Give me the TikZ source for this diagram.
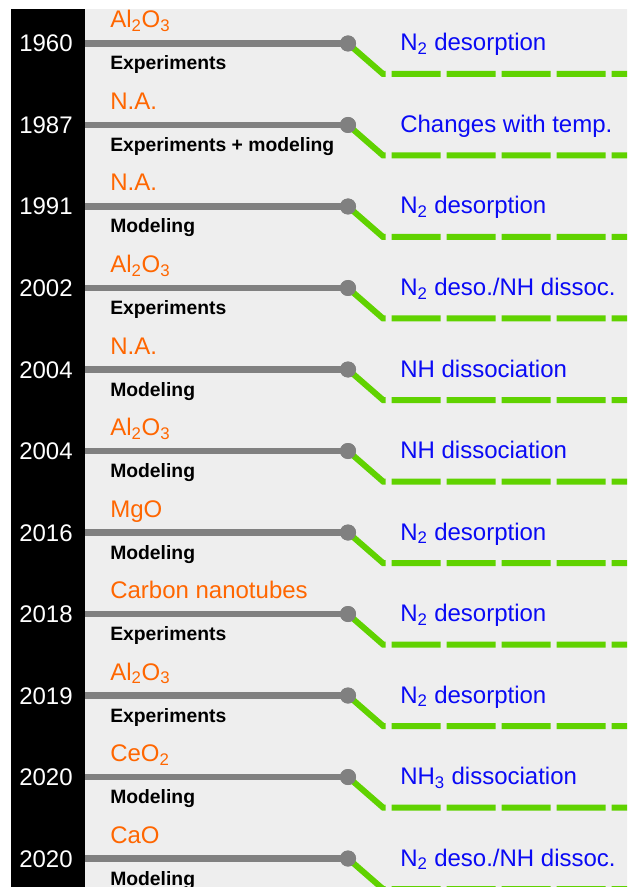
\documentclass[tikz,border=0pt]{standalone}
\usepackage{fontspec}
\setmainfont{Liberation Sans}
\definecolor{bgg}{RGB}{238,238,238}
\definecolor{lgray}{RGB}{128,128,128}
\definecolor{matorange}{RGB}{255,102,0}
\definecolor{resblue}{RGB}{10,10,245}
\definecolor{lgreen}{RGB}{96,210,0}
\tikzset{
  grayline/.style={draw=lgray,line width=5pt},
  greenline/.style={draw=lgreen,line width=4.5pt,dash pattern=on 36.75pt off 4.5pt},
  dot/.style={circle,fill=lgray,minimum size=12pt,inner sep=0pt},
  yeartxt/.style={anchor=base,inner sep=0pt,text=white,font=\fontsize{18pt}{20pt}\selectfont},
  mattxt/.style={anchor=base west,inner sep=0pt,text=matorange,font=\fontsize{18pt}{20pt}\selectfont},
  methtxt/.style={anchor=base west,inner sep=0pt,text=black,font=\fontsize{14.5pt}{16pt}\selectfont\bfseries},
  restxt/.style={anchor=base west,inner sep=0pt,text=resblue,font=\fontsize{18pt}{20pt}\selectfont}
}
\newcommand{\sbs}[1]{\textsubscript{#1}}
\begin{document}
\begin{tikzpicture}[x=0.75pt,y=-0.75pt]
\useasboundingbox (0,0) rectangle (627,887);
\clip (0,0) rectangle (627,887);
\fill[white] (0,0) rectangle (627,887);
\fill[black] (11,9) rectangle (85,890);
\fill[bgg] (85,9) rectangle (630,890);
\foreach \i/\yr/\mat/\meth/\res in {
  0/1960/{Al\sbs{2}O\sbs{3}}/{Experiments}/{N\sbs{2} desorption},
  1/1987/{N.A.}/{Experiments + modeling}/{Changes with temp.},
  2/1991/{N.A.}/{Modeling}/{N\sbs{2} desorption},
  3/2002/{Al\sbs{2}O\sbs{3}}/{Experiments}/{N\sbs{2} deso./NH dissoc.},
  4/2004/{N.A.}/{Modeling}/{NH dissociation},
  5/2004/{Al\sbs{2}O\sbs{3}}/{Modeling}/{NH dissociation},
  6/2016/{MgO}/{Modeling}/{N\sbs{2} desorption},
  7/2018/{Carbon nanotubes}/{Experiments}/{N\sbs{2} desorption},
  8/2019/{Al\sbs{2}O\sbs{3}}/{Experiments}/{N\sbs{2} desorption},
  9/2020/{CeO\sbs{2}}/{Modeling}/{NH\sbs{3} dissociation},
  10/2020/{CaO}/{Modeling}/{N\sbs{2} deso./NH dissoc.}} {
  \pgfmathsetmacro\L{43.5+81.5*\i}
  \coordinate (s\i) at (85,\L);
  \node[dot] (d\i) at (348,\L) {};
  \coordinate (c\i) at (383,\L+30.5);
  \coordinate (e\i) at (640,\L+30.5);
  \draw[greenline] (d\i.center) -- (c\i) -- (e\i);
  \draw[grayline] (s\i) -- (d\i.center);
  \node[dot] at (d\i) {};
  \node[yeartxt] (y\i) at (46,\L+8.5) {\yr};
  \node[mattxt] (m\i) at (110,\L-15.5) {\mat};
  \node[methtxt] (t\i) at (110,\L+26.5) {\meth};
  \node[restxt] (r\i) at (400,\L+7.5) {\res};
}
\end{tikzpicture}
\end{document}
